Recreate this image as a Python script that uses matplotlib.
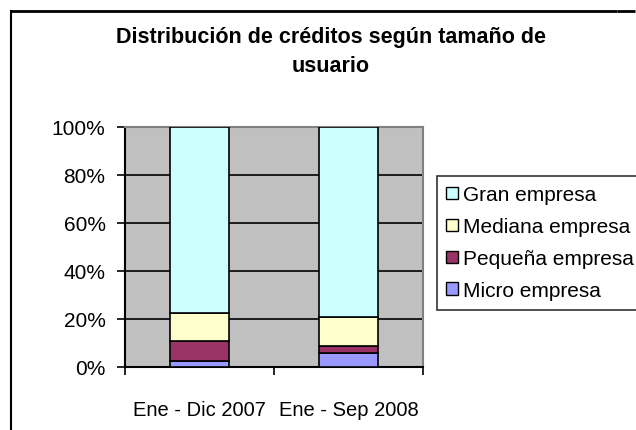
import matplotlib
matplotlib.use("Agg")
import matplotlib.pyplot as plt
from matplotlib.patches import Patch
from matplotlib.lines import Line2D
import numpy as np

plt.rcParams['font.family'] = ['Liberation Sans', 'DejaVu Sans']

categories = ["Ene - Dic 2007", "Ene - Sep 2008"]
series_names = ["Micro empresa", "Pequeña empresa", "Mediana empresa", "Gran empresa"]
micro = [2.4, 5.9]
pequena = [8.3, 2.7]
mediana = [11.6, 12.3]
gran = [77.7, 79.1]
colors = ["#9999FF", "#993366", "#FFFFCC", "#CCFFFF"]
yticks = [0, 20, 40, 60, 80, 100]
ytick_labels = ["0%", "20%", "40%", "60%", "80%", "100%"]
title = "Distribución de créditos según tamaño de\nusuario"

W, H = 636, 431
fig = plt.figure(figsize=(W / 100, H / 100), dpi=100)
fig.patch.set_facecolor("white")

ax = fig.add_axes([125 / W, 1 - 368 / H, (423 - 125) / W, (368 - 127.5) / H])
ax.set_facecolor("#C0C0C0")

x = np.arange(len(categories))
series = [micro, pequena, mediana, gran]
bottom = np.zeros(len(categories))
handles = []
for vals, name, c in zip(series, series_names, colors):
    ax.bar(x, vals, width=0.4, bottom=bottom, color=c, edgecolor="black", linewidth=1.2, zorder=3)
    bottom += np.array(vals)
    handles.append(Patch(facecolor=c, edgecolor="black", linewidth=1.0, label=name))

ax.set_xlim(-0.5, len(categories) - 0.5)
ax.set_ylim(0, 100)
ax.set_yticks(yticks)
ax.set_yticklabels(ytick_labels)
ax.yaxis.grid(True, color="black", linewidth=1.2, zorder=1)
ax.set_axisbelow(True)

ax.set_xticks(np.arange(len(categories) + 1) - 0.5)
ax.set_xticklabels([])
ax.set_xticks(x, minor=True)
ax.set_xticklabels(categories, minor=True)
ax.tick_params(axis="x", which="minor", length=0, pad=24, labelsize=14.5)
ax.tick_params(axis="x", which="major", length=6, width=1.2, direction="out")
ax.tick_params(axis="y", length=6, width=1.2, direction="out", labelsize=15, pad=8)

for s in ["left", "bottom"]:
    ax.spines[s].set_color("black")
    ax.spines[s].set_linewidth(1.5)
for s in ["top", "right"]:
    ax.spines[s].set_color("#808080")
    ax.spines[s].set_linewidth(1.5)

fig.text(331 / W, 1 - 52 / H, title, ha="center", va="center", fontsize=15.5,
         fontweight="bold", linespacing=1.5)

leg = fig.legend(handles=handles[::-1], loc="upper left",
                 bbox_to_anchor=(437 / W, 1 - 177 / H), bbox_transform=fig.transFigure,
                 fontsize=15, frameon=True, fancybox=False, edgecolor="black",
                 handlelength=0.55, handleheight=0.55, handletextpad=0.25,
                 labelspacing=0.62, borderpad=0.45, borderaxespad=0)
leg.get_frame().set_linewidth(1.2)

# outer chart border (right and bottom edges lie outside the canvas)
top_y = 1 - 11.5 / H
left_x = 10.5 / W
fig.add_artist(Line2D([left_x, 0.97], [top_y, top_y], transform=fig.transFigure,
                      color="black", linewidth=2.0, solid_capstyle="butt", zorder=10))
fig.add_artist(Line2D([0.97, (W - 1) / W], [top_y, top_y], transform=fig.transFigure,
                      color="black", linewidth=2.0, solid_capstyle="butt", zorder=10))
fig.add_artist(Line2D([left_x, left_x], [1 / H, top_y], transform=fig.transFigure,
                      color="black", linewidth=1.5, zorder=10))

fig.savefig("out.png", dpi=100)
